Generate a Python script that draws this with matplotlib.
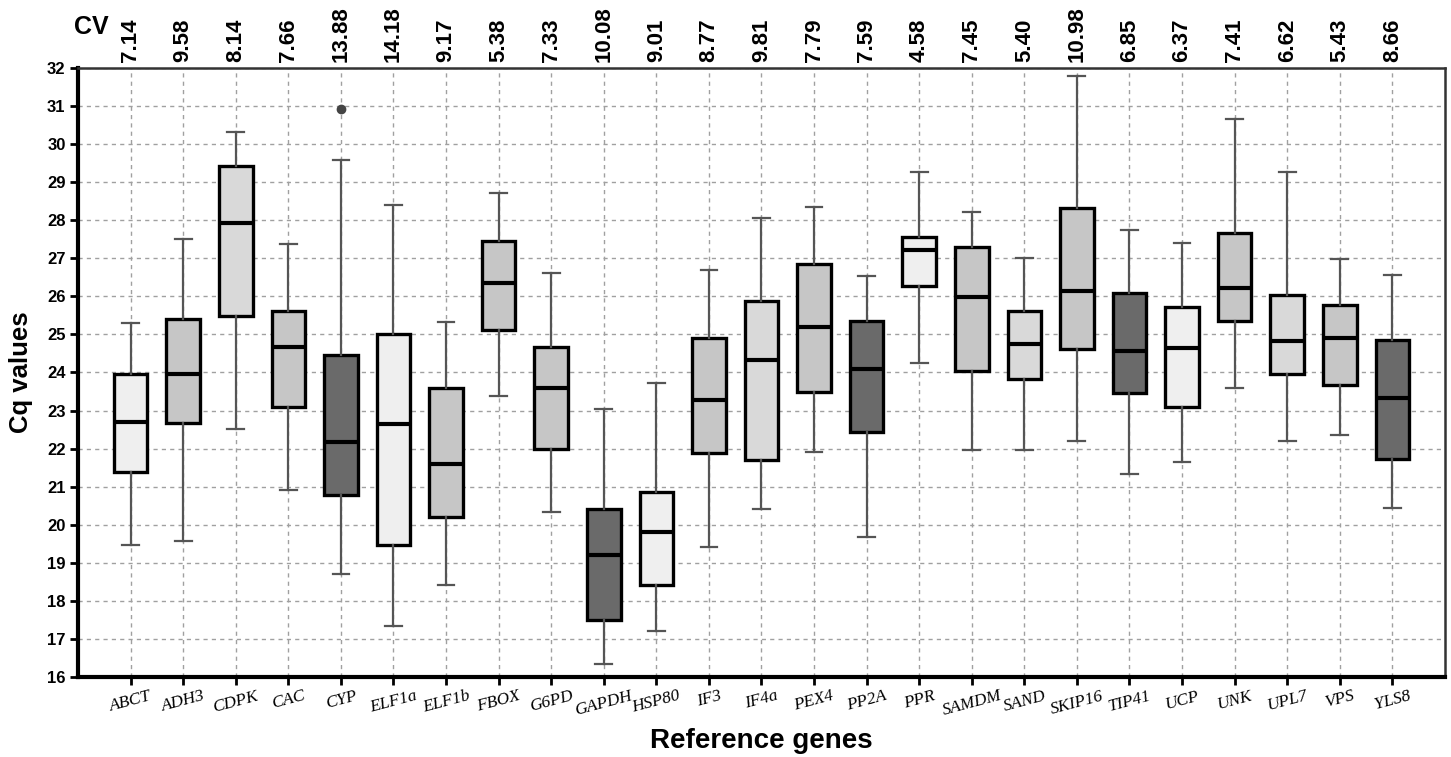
import numpy as np
import matplotlib
matplotlib.use('Agg')
import matplotlib.pyplot as plt
import matplotlib.transforms as mtransforms

plt.rcParams['font.family'] = ['Liberation Sans', 'DejaVu Sans']

# data
genes = ['ABCT', 'ADH3', 'CDPK', 'CAC', 'CYP', 'ELF1a', 'ELF1b', 'FBOX', 'G6PD',
         'GAPDH', 'HSP80', 'IF3', 'IF4a', 'PEX4', 'PP2A', 'PPR', 'SAMDM', 'SAND',
         'SKIP16', 'TIP41', 'UCP', 'UNK', 'UPL7', 'VPS', 'YLS8']
cv = [7.14, 9.58, 8.14, 7.66, 13.88, 14.18, 9.17, 5.38, 7.33, 10.08, 9.01, 8.77,
      9.81, 7.79, 7.59, 4.58, 7.45, 5.40, 10.98, 6.85, 6.37, 7.41, 6.62, 5.43, 8.66]
whisk_lo = [19.47, 19.57, 22.51, 20.91, 18.70, 17.34, 18.42, 23.38, 20.33, 16.35,
            17.22, 19.41, 20.42, 21.91, 19.69, 24.24, 21.97, 21.97, 22.21, 21.32,
            21.65, 23.60, 22.21, 22.36, 20.45]
q1 = [21.39, 22.66, 25.49, 23.08, 20.78, 19.47, 20.20, 25.11, 21.98, 17.50,
      18.41, 21.88, 21.70, 23.49, 22.43, 26.28, 24.03, 23.83, 24.62, 23.45,
      23.08, 25.34, 23.95, 23.66, 21.73]
median = [22.71, 23.96, 27.94, 24.68, 22.18, 22.64, 21.60, 26.36, 23.60, 19.20,
          19.81, 23.29, 24.32, 25.20, 24.08, 27.22, 25.97, 24.74, 26.13, 24.57,
          24.65, 26.21, 24.83, 24.91, 23.32]
q3 = [23.97, 25.41, 29.42, 25.61, 24.47, 25.00, 23.58, 27.45, 24.68, 20.42,
      20.85, 24.91, 25.88, 26.85, 25.35, 27.57, 27.30, 25.61, 28.31, 26.09,
      25.72, 27.66, 26.04, 25.76, 24.85]
whisk_hi = [25.29, 27.50, 30.33, 27.38, 29.59, 28.39, 25.32, 28.72, 26.61, 23.04,
            23.72, 26.70, 28.05, 28.36, 26.54, 29.26, 28.22, 27.01, 31.80, 27.75,
            27.41, 30.67, 29.28, 26.99, 26.57]
outliers = {'CYP': [30.91]}
shade = ['light', 'mid', 'pale', 'mid', 'dark', 'light', 'mid', 'mid', 'mid', 'dark',
         'light', 'mid', 'pale', 'mid', 'dark', 'light', 'mid', 'pale', 'mid', 'dark',
         'light', 'mid', 'pale', 'mid', 'dark']
shade_colors = {'light': '#efefef', 'pale': '#d9d9d9', 'mid': '#c6c6c6', 'dark': '#6a6a6a'}

stats = []
for i, g in enumerate(genes):
    stats.append({'label': g, 'whislo': whisk_lo[i], 'q1': q1[i], 'med': median[i],
                  'q3': q3[i], 'whishi': whisk_hi[i], 'fliers': outliers.get(g, [])})

fig = plt.figure(figsize=(14.51, 7.57), dpi=100)
ax = fig.add_axes([0.0538, 0.1057, 0.942, 0.8045])

pos = np.arange(1, len(genes) + 1)
bp = ax.bxp(stats, positions=pos, widths=0.64, patch_artist=True,
            boxprops=dict(edgecolor='black', linewidth=2.4),
            medianprops=dict(color='black', linewidth=3),
            whiskerprops=dict(color='#555555', linewidth=1.6),
            capprops=dict(color='#555555', linewidth=1.6),
            flierprops=dict(marker='o', markerfacecolor='#444444', markeredgecolor='#444444',
                            markersize=6), zorder=3)
for patch, s in zip(bp['boxes'], shade):
    patch.set_facecolor(shade_colors[s])

ax.set_xlim(0, len(genes) + 1)
ax.set_ylim(16, 32)
ax.set_yticks(range(16, 33))
ax.set_xticks(pos)
ax.set_xticklabels(genes, rotation=15, ha='center', va='top',
                   fontfamily='Liberation Serif', fontstyle='italic', fontsize=12.5)
for lab in ax.get_yticklabels():
    lab.set_fontweight('bold')
    lab.set_fontsize(12)

ax.grid(True, linestyle=(0, (3, 3)), color='#a0a0a0', linewidth=1, zorder=0)
ax.set_axisbelow(True)
ax.tick_params(axis='both', direction='out', length=6, width=2, color='black')
ax.tick_params(axis='x', pad=2)
ax.tick_params(axis='y', pad=3)

ax.spines['left'].set_linewidth(3)
ax.spines['bottom'].set_linewidth(3)
ax.spines['top'].set_linewidth(1.8)
ax.spines['right'].set_linewidth(1.8)
ax.spines['top'].set_color('#333333')
ax.spines['right'].set_color('#333333')

ax.set_ylabel('Cq values', fontsize=18.5, fontweight='bold', labelpad=10)
ax.set_xlabel('Reference genes', fontsize=20, fontweight='bold', labelpad=6)

# CV values above each box
trans = mtransforms.blended_transform_factory(ax.transData, ax.transAxes)
offset = mtransforms.offset_copy(trans, fig=fig, y=4.5, units='points')
for p, v in zip(pos, cv):
    ax.text(p, 1.0, f'{v:.2f}', transform=offset, rotation=90, ha='center', va='bottom',
            fontsize=16, fontweight='bold')
fig.text(74 / 1451, 1 - 27 / 757, 'CV', fontsize=18, fontweight='bold', ha='left', va='center')

fig.savefig('out.png', dpi=100)
